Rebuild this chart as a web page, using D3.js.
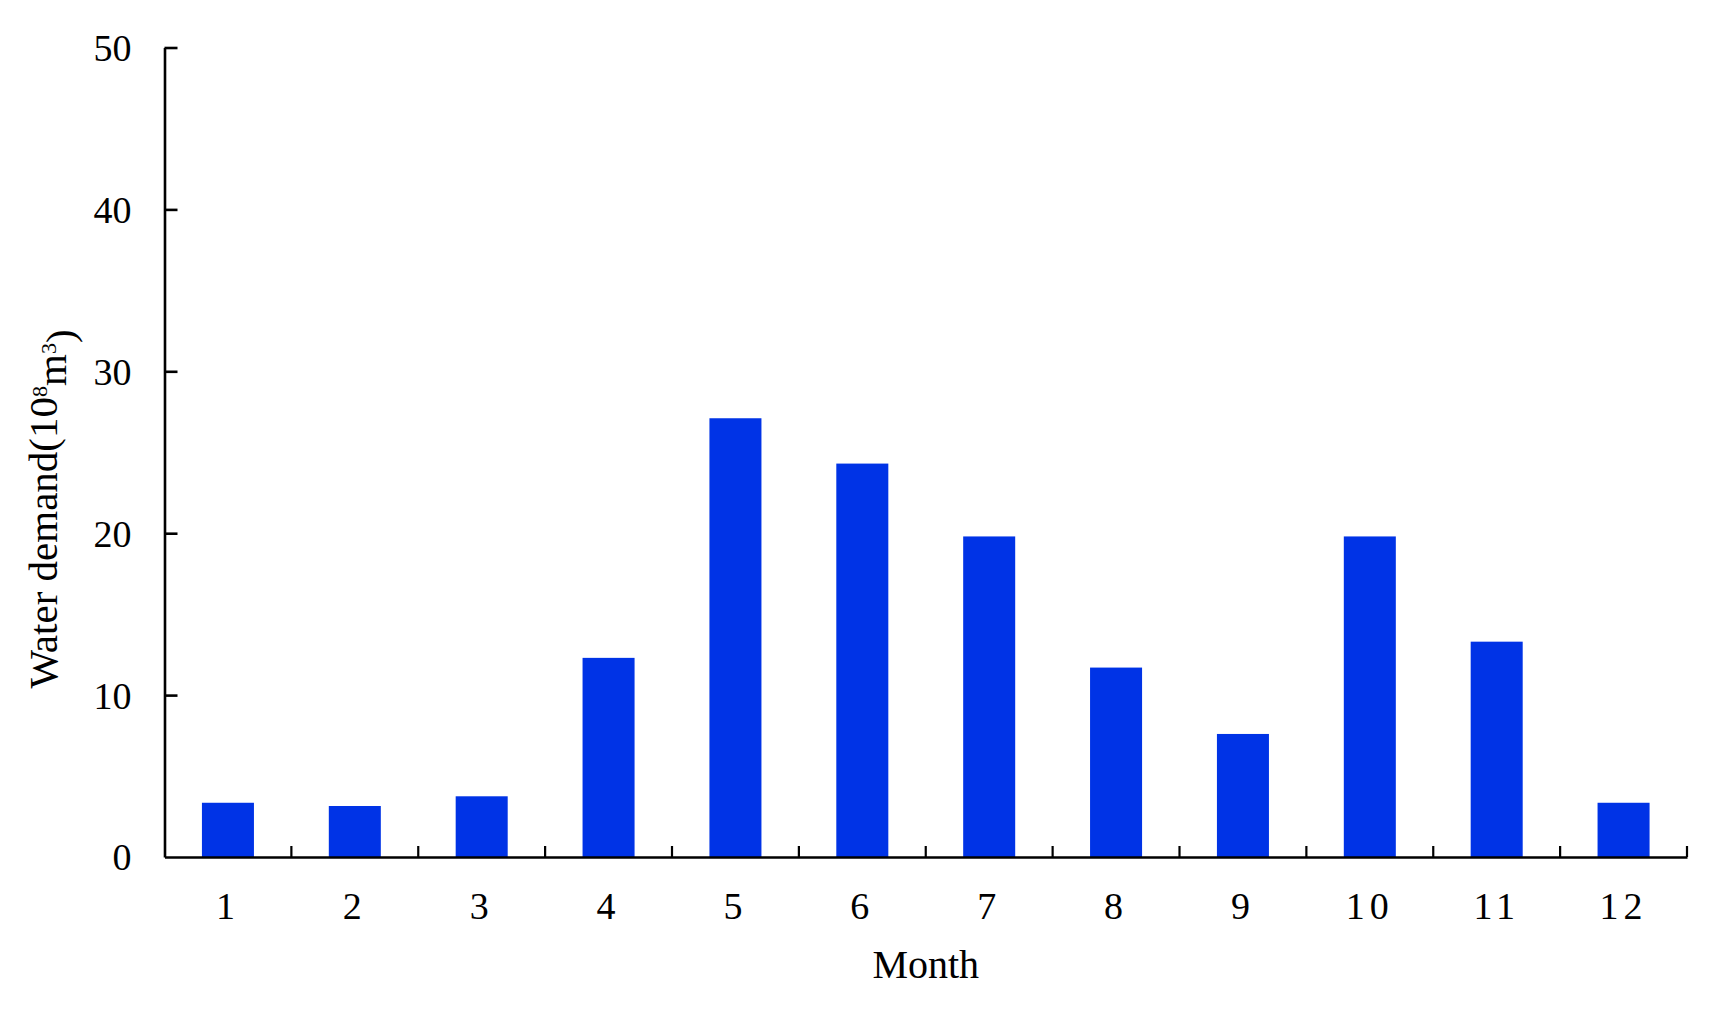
<!DOCTYPE html>
<html>
<head>
<meta charset="utf-8">
<script src="https://cdn.jsdelivr.net/npm/d3@7"></script>
<style>
  html, body { margin: 0; padding: 0; background: #fff; }
  svg { display: block; }
  text { font-family: "Liberation Serif", "Times New Roman", serif; fill: #000; }
</style>
</head>
<body>
<svg id="chart" width="1709" height="1014"></svg>
<script>
// Data
const months = ["1","2","3","4","5","6","7","8","9","10","11","12"];
const demand = [3.35, 3.15, 3.75, 12.3, 27.1, 24.3, 19.8, 11.7, 7.6, 19.8, 13.3, 3.35];
const yTicks = [0, 10, 20, 30, 40, 50];
const xTitle = "Month";

const svg = d3.select("#chart");
const mLeft = 164.5, mRight = 1687, mTop = 47.5, mBottom = 857;

const x = d3.scaleBand().domain(months).range([mLeft, mRight])
  .paddingInner(0.59).paddingOuter(0.295);
const y = d3.scaleLinear().domain([0, 50]).range([mBottom, mTop]);

// Bars
svg.append("g").selectAll("rect")
  .data(months.map((m, i) => ({m, v: demand[i]})))
  .join("rect")
  .attr("x", d => x(d.m))
  .attr("width", x.bandwidth())
  .attr("y", d => y(d.v))
  .attr("height", d => y(0) - y(d.v))
  .attr("fill", "#0033e6");

// Y axis
const yAxis = svg.append("g").attr("transform", `translate(${mLeft},0)`)
  .call(d3.axisLeft(y).tickValues(yTicks).tickSizeInner(-13).tickSizeOuter(0).tickPadding(33));
yAxis.select(".domain").attr("stroke", "#000").attr("stroke-width", 2.6);
yAxis.selectAll(".tick line").attr("stroke", "#000").attr("stroke-width", 2.6)
  .filter(d => d === 0).remove();
yAxis.selectAll(".tick text").style("font-size", "38px")
  .style("font-family", "'Liberation Serif', serif").attr("dy", "0.34em");

// X axis
const xAxis = svg.append("g").attr("transform", `translate(0,${mBottom})`)
  .call(d3.axisBottom(x).tickSize(0).tickPadding(35));
xAxis.select(".domain").attr("stroke", "#000").attr("stroke-width", 2.6);
xAxis.selectAll(".tick text").style("font-size", "38px")
  .style("font-family", "'Liberation Serif', serif").style("letter-spacing", "5px");

// X boundary ticks (pointing up)
const step = x.step();
const bounds = d3.range(1, months.length + 1).map(i => mLeft + i * step);
xAxis.append("g").selectAll("line").data(bounds).join("line")
  .attr("x1", d => d).attr("x2", d => d)
  .attr("y1", 0).attr("y2", -11)
  .attr("stroke", "#000").attr("stroke-width", 2.2);

// Axis titles
svg.append("text")
  .attr("x", (mLeft + mRight) / 2).attr("y", 978)
  .attr("text-anchor", "middle")
  .style("font-size", "40px")
  .text(xTitle);

const yt = svg.append("text")
  .attr("transform", "translate(57,509) rotate(-90)")
  .attr("text-anchor", "middle")
  .style("font-size", "41px");
yt.append("tspan").text("Water demand(10");
yt.append("tspan").attr("dy", "-0.45em").style("font-size", "22px").text("8");
yt.append("tspan").attr("dy", "0.45em").text("m");
yt.append("tspan").attr("dy", "-0.45em").style("font-size", "22px").text("3");
yt.append("tspan").attr("dy", "0.45em").text(")");
</script>
</body>
</html>
